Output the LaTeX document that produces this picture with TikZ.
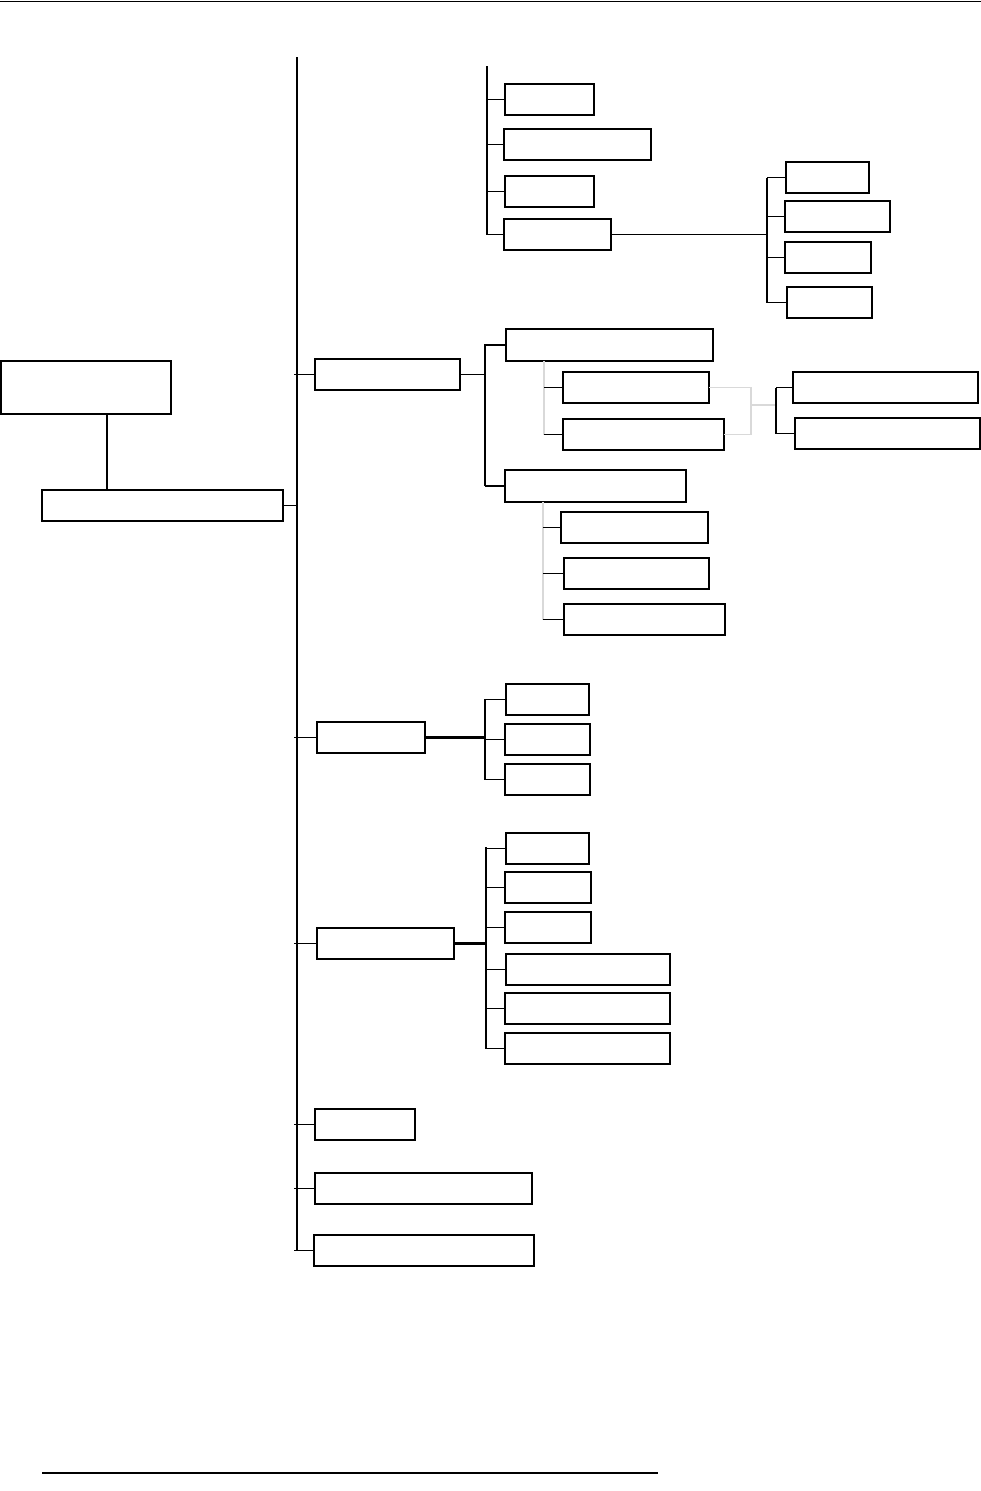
\documentclass[tikz,border=0pt]{standalone}
\usetikzlibrary{positioning}
\definecolor{paleline}{RGB}{217,217,217}

\begin{document}
\begin{tikzpicture}[x=1pt, y=-1pt,
  box/.style={draw, rectangle, line width=1.1pt, inner sep=0pt, outer sep=0pt,
              anchor=north west, minimum height=31pt},
  link/.style={line width=1.1pt},
  heavylink/.style={line width=2.6pt},
  palelink/.style={paleline, line width=1.1pt}]
\useasboundingbox (0,0) rectangle (981,1491);

% ---- page rules ----
\draw[line width=1pt] (0,1) -- (981,1);
\draw[line width=2.2pt] (42,1473) -- (658,1473);

% ---- boxes ----
\node[box, minimum width=170pt, minimum height=53pt] (r0) at (1,361) {};
\node[box, minimum width=241pt] (r1) at (42,490) {};
\foreach \n/\x/\y/\w in {
  a1/505/84/89, a2/504/129/147, a3/505/176/89, a4/504/219/107,
  b1/786/162/83, b2/785/201/105, b3/785/242/86, b4/787/287/85,
  c/315/359/145, c1a/563/372/146, c1b/563/419/161,
  d1/793/372/185, d2/795/418/185,
  c2a/561/512/147, c2b/564/558/145, c2c/564/604/161,
  e/317/722/108, e1/506/684/83, e2/505/724/85, e3/505/764/85,
  f/317/928/137, f1/506/833/83, f2/505/872/86, f3/505/912/86,
  f4/506/954/164, f5/505/993/165, f6/505/1033/165,
  g/315/1109/100, h/315/1173/217, i/314/1235/220
}{
  \node[box, minimum width=\w] (\n) at (\x,\y) {};
}
\node[box, minimum width=207pt, minimum height=32pt] (c1) at (506,329) {};
\node[box, minimum width=181pt, minimum height=32pt] (c2) at (505,470) {};

% ---- trunks ----
\coordinate (rj) at (107,414);
\coordinate (sp) at (297,57);
\coordinate (ta) at (487,66);
\coordinate (tb) at (767,177);
\coordinate (tc) at (485,344);
\coordinate (tc1) at (544,361);
\coordinate (tc2) at (543,502);
\coordinate (gj) at (751,405);
\coordinate (td) at (776,385);
\coordinate (te) at (485,699);
\coordinate (tf) at (486,847);

% root and spine
\draw[link] (rj) -- (rj |- r1.north);
\draw[link] (r1.east) -- (r1.east -| sp);
\draw[line width=1.4pt] (sp) -- (sp |- i.west);
\foreach \n in {c, e, f, g, h, i}
  \draw[link] ([xshift=-3pt]sp |- \n.west) -- (\n.west);

% top group
\draw[link] (ta) -- (ta |- a4.west);
\foreach \n in {a1, a2, a3, a4}
  \draw[link] (ta |- \n.west) -- (\n.west);
\draw[link] (a4.east) -- (a4.east -| tb);
\draw[link] (tb |- b1.west) -- (tb |- b4.west);
\foreach \n in {b1, b2, b3, b4}
  \draw[link] (tb |- \n.west) -- (\n.west);

% second group
\draw[link] (c.east) -- (c.east -| tc);
\draw[link] (tc) -- (tc |- c2.west);
\draw[link] (tc |- c1.west) -- (c1.west);
\draw[link] (tc |- c2.west) -- (c2.west);
\draw[palelink] (tc1) -- (tc1 |- c1b.west);
\foreach \n in {c1a, c1b}
  \draw[link] (tc1 |- \n.west) -- (\n.west);
\draw[palelink] (c1a.east) -- (c1a.east -| gj) -- (c1b.east -| gj) -- (c1b.east);
\draw[palelink] (gj) -- (gj -| td);
\draw[link] (td |- d1.west) -- (td |- d2.west);
\foreach \n in {d1, d2}
  \draw[link] (td |- \n.west) -- (\n.west);
\draw[palelink] (tc2) -- (tc2 |- c2c.west);
\foreach \n in {c2a, c2b, c2c}
  \draw[link] (tc2 |- \n.west) -- (\n.west);

% third group
\draw[heavylink] (e.east) -- (e.east -| te);
\draw[link] (te) -- (te |- e3.west);
\foreach \n in {e1, e2, e3}
  \draw[link] (te |- \n.west) -- (\n.west);

% fourth group
\draw[heavylink] (f.east) -- (f.east -| tf);
\draw[link] (tf) -- (tf |- f6.west);
\foreach \n in {f1, f2, f3, f4, f5, f6}
  \draw[link] (tf |- \n.west) -- (\n.west);

\end{tikzpicture}
\end{document}
